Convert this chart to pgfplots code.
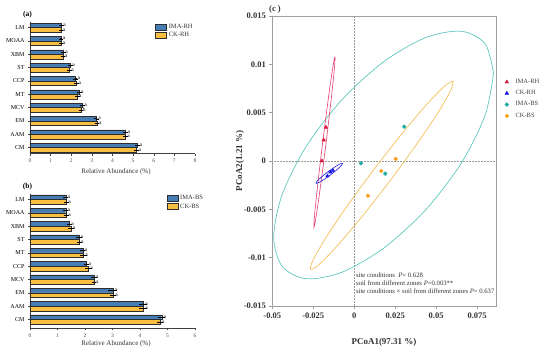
\documentclass[border=0pt]{standalone}
\usepackage{fontspec}
\setmainfont{Liberation Serif}
\usepackage{pgfplots}
\usepackage{pgfplotstable}
\pgfplotsset{compat=1.18}
\definecolor{barblue}{RGB}{70,125,180}
\definecolor{barorange}{RGB}{250,190,65}
\definecolor{baredge}{RGB}{45,45,45}
\definecolor{ellred}{RGB}{228,60,110}
\definecolor{markred}{RGB}{215,25,60}
\definecolor{mblue}{RGB}{25,25,230}
\definecolor{ellcyan}{RGB}{95,200,190}
\definecolor{markcyan}{RGB}{30,170,160}
\definecolor{ellorange}{RGB}{245,190,90}
\definecolor{markorange}{RGB}{245,160,30}

\pgfplotstableread{
y x e l
0 5.22 0.04 a
1 4.64 0.04 a
2 3.22 0.04 a
3 2.54 0.04 a
4 2.38 0.04 a
5 2.21 0.04 a
6 1.96 0.04 a
7 1.62 0.04 a
8 1.50 0.03 a
9 1.52 0.03 a
}\aIMA
\pgfplotstableread{
y x e l
0 5.17 0.04 a
1 4.62 0.04 a
2 3.25 0.04 a
3 2.47 0.04 b
4 2.29 0.04 a
5 2.26 0.04 a
6 1.91 0.04 a
7 1.60 0.04 a
8 1.50 0.03 a
9 1.50 0.03 a
}\aCK
\pgfplotstableread{
y x e l
0 4.79 0.07 a
1 4.12 0.08 a
2 3.01 0.10 a
3 2.33 0.05 a
4 2.06 0.03 a
5 1.92 0.04 a
6 1.78 0.05 a
7 1.43 0.03 a
8 1.30 0.03 a
9 1.30 0.03 a
}\bIMA
\pgfplotstableread{
y x e l
0 4.73 0.06 a
1 4.12 0.08 a
2 3.03 0.05 a
3 2.33 0.03 a
4 2.12 0.06 a
5 1.94 0.06 a
6 1.79 0.04 a
7 1.49 0.05 a
8 1.32 0.04 a
9 1.32 0.03 a
}\bCK

\pgfplotsset{
  barpanel/.style={
    scale only axis, width=165pt,
    xbar, bar width=4.6pt,
    axis x line*=bottom, axis y line*=left,
    axis line style={-, black!75, line width=0.5pt},
    tick style={black!75, line width=0.4pt},
    ytick={0,...,9},
    tick align=outside, major tick length=2pt,
    xtick pos=bottom, ytick pos=left,
    xticklabel style={font=\fontsize{5.5}{6}\selectfont, text=black!70},
    yticklabel style={font=\fontsize{6}{7}\selectfont},
    /pgf/number format/assume math mode=true,
    clip=false,
    nodes near coords, point meta=explicit symbolic,
    every node near coord/.append style={font=\fontsize{5.5}{6}\selectfont, anchor=west, inner sep=0.3pt, xshift=1.5pt, text=black},
    legend cell align=left,
    legend style={draw=none, fill=none, font=\fontsize{6.5}{7}\selectfont, row sep=-1.2pt, inner sep=0pt, text=black!80},
    legend image code/.code={\draw[##1] (0pt,-3pt) rectangle (11pt,3pt);},
  },
  blueb/.style={fill=barblue, draw=baredge, line width=0.4pt, bar shift=2.3pt,
    error bars/.cd, x dir=both, x explicit, error bar style={black, line width=0.5pt}, error mark options={black, mark size=1.6pt, line width=0.45pt}},
  orangeb/.style={fill=barorange, draw=baredge, line width=0.4pt, bar shift=-2.3pt,
    error bars/.cd, x dir=both, x explicit, error bar style={black, line width=0.5pt}, error mark options={black, mark size=1.6pt, line width=0.45pt}},
  pcoalegend/.style={legend image code/.code={\path (0pt,0pt) (10pt,0pt);\draw[##1] plot coordinates {(3.5pt,0pt)};}},
}

\begin{document}
\begin{tikzpicture}
\useasboundingbox (0,0) rectangle (550pt,352pt);

% ---------- panel (a)
\begin{axis}[barpanel, at={(30pt,198.3pt)}, anchor=south west, height=132pt,
  xmin=0, xmax=8, xtick={0,...,8}, ymin=-0.45, ymax=9.45,
  yticklabels={CM,AAM,EM,MCV,MT,CCP,ST,XBM,MOAA,LM},
  legend style={at={(0.759,1.0)}, anchor=north west}]
\addplot[blueb] table[x=x, y=y, x error=e, meta=l]{\aIMA};
\addplot[orangeb] table[x=x, y=y, x error=e, meta=l]{\aCK};
\legend{IMA-RH, CK-RH}
\end{axis}

% ---------- panel (b)
\begin{axis}[barpanel, at={(30pt,23.8pt)}, anchor=south west, height=134pt,
  xmin=0, xmax=6, xtick={0,...,6}, ymin=-0.65, ymax=9.4,
  yticklabels={CM,AAM,EM,MCV,CCP,MT,ST,XBM,MOAA,LM},
  legend style={at={(0.828,1.009)}, anchor=north west}]
\addplot[blueb] table[x=x, y=y, x error=e, meta=l]{\bIMA};
\addplot[orangeb] table[x=x, y=y, x error=e, meta=l]{\bCK};
\legend{IMA-BS, CK-BS}
\end{axis}

\node[font=\fontsize{7.5}{8}\selectfont\bfseries] at (27.5pt,337pt) {(a)};
\node[font=\fontsize{7.5}{8}\selectfont\bfseries] at (27.5pt,165.3pt) {(b)};
\node[font=\fontsize{7}{8}\selectfont, text=black!80] at (116pt,180.3pt) {Relative Abundance (\%)};
\node[font=\fontsize{7}{8}\selectfont, text=black!80] at (116pt,8pt) {Relative Abundance (\%)};

% ---------- panel (c)
\begin{axis}[at={(272.3pt,46pt)}, anchor=south west, scale only axis,
  width=223.7pt, height=290pt,
  xmin=-0.05, xmax=0.0865, ymin=-0.015, ymax=0.015,
  scaled ticks=false,
  axis line style={gray!75, line width=0.6pt},
  tick style={gray!75, line width=0.5pt},
  tick align=outside, major tick length=3pt,
  xtick pos=bottom, ytick pos=left,
  xtick={-0.05,-0.025,0,0.025,0.05,0.075},
  xticklabels={-0.05,-0.025,0,0.025,0.05,0.075},
  ytick={-0.015,-0.01,-0.005,0,0.005,0.01,0.015},
  yticklabels={-0.015,-0.01,-0.005,0,0.005,0.01,0.015},
  ticklabel style={font=\fontsize{8.5}{9}\selectfont\bfseries, text=black!80},
  legend cell align=left,
  legend style={draw=none, fill=none, at={(1.031,0.79)}, anchor=north west,
    font=\fontsize{6.5}{7}\selectfont, text=black!75, row sep=1.5pt, inner sep=0pt},
  pcoalegend,
]
\addplot[gray!80, densely dotted, line width=0.5pt, forget plot] coordinates {(0,-0.015) (0,0.015)};
\addplot[gray!80, densely dotted, line width=0.5pt, forget plot] coordinates {(-0.05,0) (0.0865,0)};
% cyan ellipse (IMA-BS)
\addplot[ellcyan, line width=0.7pt, smooth, no marks, forget plot] coordinates {
(0.08501,0.009083) (0.07990,0.012129) (0.06536,0.013422) (0.04360,0.012767)
(0.01793,0.010263) (-0.00774,0.006291) (-0.02950,0.001455) (-0.04404,-0.003507)
(-0.04915,-0.007841) (-0.04404,-0.010887) (-0.02950,-0.012180) (-0.00774,-0.011525)
(0.01793,-0.009021) (0.04360,-0.005049) (0.06536,-0.000213) (0.07990,0.004749)
(0.08501,0.009083)};
% orange ellipse (CK-BS)
\addplot[ellorange, line width=0.7pt, smooth, no marks, forget plot] coordinates {
(0.06037,0.008276) (0.05524,0.007768) (0.04426,0.005855) (0.02912,0.002825)
(0.01212,-0.000857) (-0.00416,-0.004633) (-0.01723,-0.007927) (-0.02511,-0.010238)
(-0.02659,-0.011214) (-0.02146,-0.010706) (-0.01048,-0.008793) (0.00466,-0.005763)
(0.02166,-0.002081) (0.03794,0.001695) (0.05101,0.004989) (0.05889,0.007300)
(0.06037,0.008276)};
% red ellipse (IMA-RH)
\addplot[ellred, line width=0.6pt, smooth, no marks, forget plot] coordinates {
(-0.01177,0.010790) (-0.01265,0.010126) (-0.01437,0.008221) (-0.01667,0.005363)
(-0.01920,0.001988) (-0.02157,-0.001391) (-0.02343,-0.004258) (-0.02448,-0.006178)
(-0.02457,-0.006858) (-0.02369,-0.006194) (-0.02197,-0.004289) (-0.01967,-0.001431)
(-0.01714,0.001945) (-0.01477,0.005323) (-0.01291,0.008190) (-0.01186,0.010110)
(-0.01177,0.010790)};
% blue ellipse (CK-RH)
\addplot[mblue, line width=0.6pt, smooth, no marks, forget plot] coordinates {
(-0.00707,-0.000238) (-0.00797,-0.000253) (-0.00997,-0.000423) (-0.01277,-0.000723)
(-0.01594,-0.001106) (-0.01900,-0.001515) (-0.02148,-0.001886) (-0.02301,-0.002165)
(-0.02335,-0.002307) (-0.02245,-0.002291) (-0.02045,-0.002121) (-0.01765,-0.001821)
(-0.01448,-0.001438) (-0.01142,-0.001029) (-0.00894,-0.000658) (-0.00741,-0.000379)
(-0.00707,-0.000238)};
% points
\addplot[only marks, mark=triangle*, mark size=2.1pt, color=markred] coordinates {
(-0.01726,0.00349) (-0.01866,0.00217) (-0.0197,0.0)};
\addplot[only marks, mark=triangle*, mark size=2.1pt, color=mblue] coordinates {
(-0.01635,-0.00155) (-0.01452,-0.00114) (-0.01299,-0.00098)};
\addplot[only marks, mark=*, mark size=1.9pt, color=markcyan] coordinates {
(0.00409,-0.00024) (0.0305,0.00355) (0.01891,-0.00131)};
\addplot[only marks, mark=*, mark size=1.9pt, color=markorange] coordinates {
(0.02525,0.00021) (0.01647,-0.00104) (0.00835,-0.00359)};
\legend{IMA-RH, CK-RH, IMA-BS, CK-BS}
\node[anchor=north west, align=left, inner sep=0pt, font=\fontsize{6.7}{8}\selectfont, text=black!80]
  at (rel axis cs:0.374,0.114) {site conditions\enspace\textit{P}= 0.628\\
  soil from different zones \textit{P}=0.003**\\
  site conditions × soil from different zones \textit{P}= 0.637};
\end{axis}

\node[font=\fontsize{8.5}{9}\selectfont\bfseries, text=black!80] at (275pt,343pt) {(c )};
\node[font=\fontsize{9}{10}\selectfont\bfseries, text=black!80] at (384pt,10pt) {PCoA1(97.31 \%)};
\node[font=\fontsize{9}{10}\selectfont\bfseries, text=black!80, rotate=90] at (240pt,191pt) {PCoA2(1.21 \%)};
\end{tikzpicture}
\end{document}
